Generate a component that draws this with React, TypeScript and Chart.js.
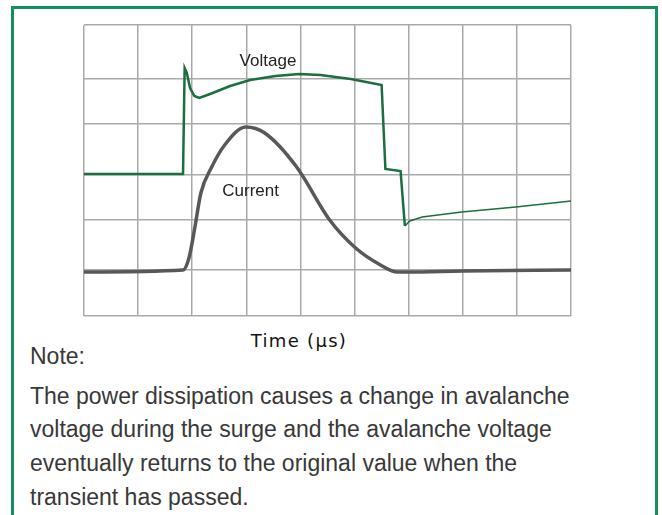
import React, { useEffect, useRef } from "react";
import { Chart, registerables } from "chart.js";

Chart.register(...registerables);

// x in grid divisions (0..9), y in arbitrary units (0..291)
const voltageX = [0, 1.83, 1.86, 1.9, 1.96, 2.04, 2.13, 2.33, 2.7, 3.07, 3.54, 3.98, 4.37, 4.93, 5.5, 5.57, 5.85, 5.93, 6.02, 6.25, 6.98, 7.98, 9];
const voltageY = [142, 142, 248, 243, 228, 220, 218, 222, 230, 236, 240, 242, 241, 237, 231, 147, 145, 90, 95, 99, 104, 109, 115];

const currentX = [0, 1.83, 1.94, 2.05, 2.16, 2.36, 2.6, 2.99, 3.34, 3.93, 4.54, 5.02, 5.48, 5.79, 5.98, 7.0, 9];
const currentY = [44, 46, 58, 89, 123, 149, 171, 189, 183, 149, 96, 68, 51, 44, 44, 45, 46];

const yGridTicks = [0, 46, 96, 141, 192, 237, 291];
const xGridTicks = [0, 1, 2, 3, 4, 5, 6, 7, 8, 9];

const seriesLabels = [
  { text: "Voltage", x: 3.4, y: 255 },
  { text: "Current", x: 3.08, y: 125 },
];

const axisTitle = "Time (µs)";
const noteTitle = "Note:";
const noteLines = [
  "The power dissipation causes a change in avalanche",
  "voltage during the surge and the avalanche voltage",
  "eventually returns to the original value when the",
  "transient has passed.",
];

const labelPlugin = {
  id: "seriesLabels",
  afterDatasetsDraw(chart: any) {
    const { ctx, scales } = chart;
    ctx.save();
    ctx.font = "17px 'Liberation Sans', Arial, sans-serif";
    ctx.fillStyle = "#222";
    ctx.textAlign = "center";
    ctx.textBaseline = "middle";
    for (const l of seriesLabels) {
      ctx.fillText(l.text, scales.x.getPixelForValue(l.x), scales.y.getPixelForValue(l.y));
    }
    ctx.restore();
  },
};

export default function App() {
  const ref = useRef<HTMLCanvasElement>(null);
  useEffect(() => {
    const chart = new Chart(ref.current!, {
      type: "line",
      data: {
        datasets: [
          {
            label: "Voltage",
            data: voltageX.map((x, i) => ({ x, y: voltageY[i] })),
            borderColor: "#1b6e3e",
            borderWidth: 2.5,
            pointRadius: 0,
            tension: 0,
            segment: {
              borderWidth: (c: any) => (c.p0.parsed.x >= 5.9 ? 1.5 : 2.5),
            },
          },
          {
            label: "Current",
            data: currentX.map((x, i) => ({ x, y: currentY[i] })),
            borderColor: "#585858",
            borderWidth: 3.5,
            pointRadius: 0,
            cubicInterpolationMode: "monotone",
          },
        ],
      },
      options: {
        animation: false,
        responsive: false,
        maintainAspectRatio: false,
        layout: { padding: { left: 84, right: 91, top: 25, bottom: 14 } },
        plugins: { legend: { display: false }, tooltip: { enabled: false } },
        scales: {
          x: {
            type: "linear",
            min: 0,
            max: 9,
            afterBuildTicks: (s: any) => {
              s.ticks = xGridTicks.map((v) => ({ value: v }));
            },
            ticks: { display: false },
            grid: { color: "#a9a9a9", lineWidth: 1.5, drawTicks: false },
            border: { display: false },
          },
          y: {
            type: "linear",
            min: 0,
            max: 291,
            afterBuildTicks: (s: any) => {
              s.ticks = yGridTicks.map((v) => ({ value: v }));
            },
            ticks: { display: false },
            grid: { color: "#a9a9a9", lineWidth: 1.5, drawTicks: false },
            border: { display: false },
          },
        },
      },
      plugins: [labelPlugin],
    } as any);
    return () => chart.destroy();
  }, []);

  return (
    <div style={{ position: "fixed", left: 0, top: 0, width: 662, height: 515, background: "#fff", overflow: "hidden" }}>
      <div
        style={{
          position: "absolute",
          left: 11,
          top: 6,
          width: 641,
          height: 600,
          border: "3px solid #13915a",
        }}
      />
      <canvas ref={ref} width={662} height={330} style={{ position: "absolute", left: 0, top: 0, width: 662, height: 330 }} />
      <div
        style={{
          position: "absolute",
          left: 0,
          width: 598,
          top: 332,
          textAlign: "center",
          font: "18px 'DejaVu Sans', sans-serif",
          lineHeight: "18px",
          color: "#111",
          letterSpacing: "1.3px",
        }}
      >
        {axisTitle}
      </div>
      <div
        style={{
          position: "absolute",
          left: 30,
          top: 340,
          font: "23px 'Liberation Sans', Arial, sans-serif",
          color: "#383838",
          lineHeight: "33.7px",
          whiteSpace: "nowrap",
        }}
      >
        <div style={{ marginBottom: 6 }}>{noteTitle}</div>
        {noteLines.map((l, i) => (
          <div key={i}>{l}</div>
        ))}
      </div>
    </div>
  );
}
